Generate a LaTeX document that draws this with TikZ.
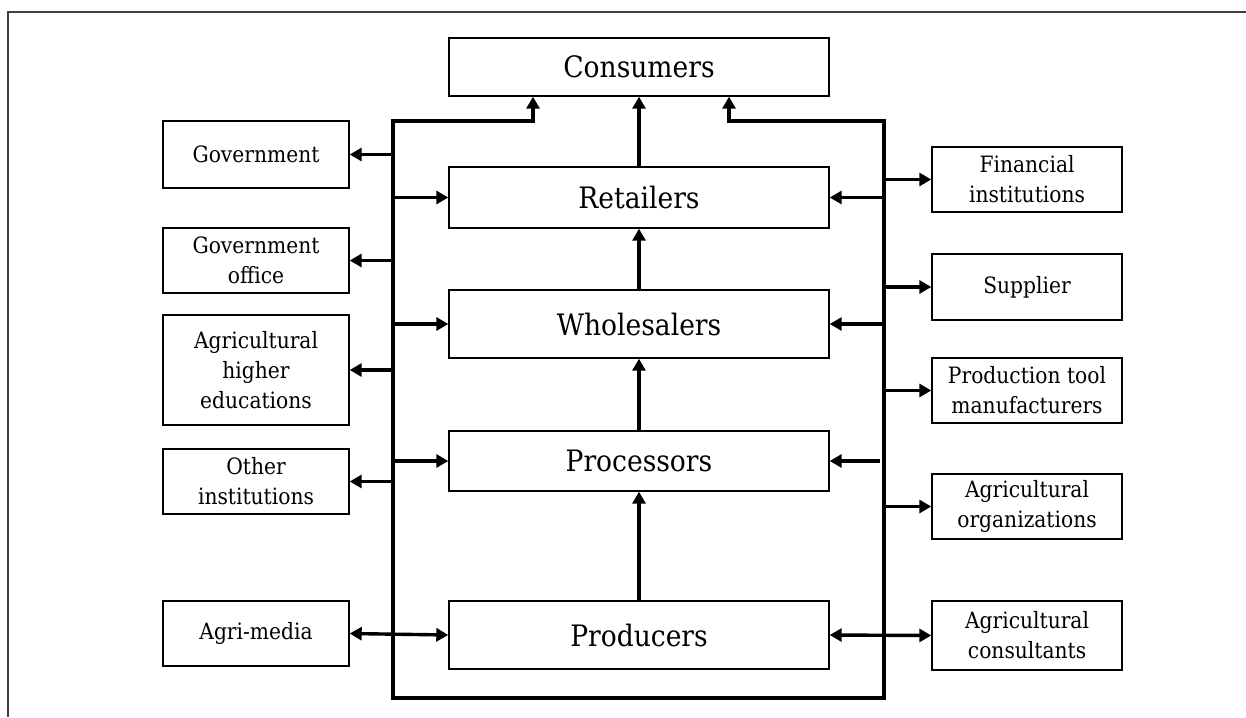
\documentclass[tikz,border=0pt]{standalone}
\usepackage{fontspec}
\setmainfont{DejaVu Serif Condensed}
\usetikzlibrary{arrows.meta}
\begin{document}
\begin{tikzpicture}[x=1pt,y=-1pt,
  box/.style={draw, line width=1.4pt, inner sep=0pt, align=center},
  mainbox/.style={box, minimum width=380pt, font=\fontsize{29.5}{34}\selectfont},
  lbox/.style={box, minimum width=186pt, font=\fontsize{22.5}{30}\selectfont},
  rbox/.style={box, minimum width=190pt, font=\fontsize{22.5}{30}\selectfont},
  tip/.tip={Triangle[length=12pt,width=13pt]},
  conn/.style={line width=3.6pt, -tip},
  twoway/.style={line width=3.4pt, tip-tip},
  bus/.style={line width=3.9pt}]
\useasboundingbox (0,0) rectangle (1246,717);
\draw[line width=1.5pt, black!75] (8,717) -- (8,12) -- (1246,12);

% main chain
\node[mainbox, minimum height=58pt] (cons) at (639,67) {Consumers};
\node[mainbox, minimum height=61pt] (ret) at (639,197.5) {Retailers};
\node[mainbox, minimum height=68pt] (who) at (639,324) {Wholesalers};
\node[mainbox, minimum height=60pt] (proc) at (639,461) {Processors};
\node[mainbox, minimum height=68pt] (prod) at (639,635) {Producers};

% left boxes
\node[lbox, minimum height=67pt] (gov) at (256,154.5) {Government};
\node[lbox, minimum height=65pt] (govoff) at (256,260.5) {Government\\office};
\node[lbox, minimum height=110pt] (edu) at (256,370) {Agricultural\\higher\\educations};
\node[lbox, minimum height=65pt] (other) at (256,481.5) {Other\\institutions};
\node[lbox, minimum height=65pt] (media) at (256,633.5) {Agri-media};

% right boxes
\node[rbox, minimum height=65pt] (fin) at (1027,179.5) {Financial\\institutions};
\node[rbox, minimum height=66pt] (sup) at (1027,287) {Supplier};
\node[rbox, minimum height=65pt] (tool) at (1027,390.5) {Production tool\\manufacturers};
\node[rbox, minimum height=65pt] (org) at (1027,506.5) {Agricultural\\organizations};
\node[rbox, minimum height=69pt] (consul) at (1027,635.5) {Agricultural\\consultants};

% bus
\coordinate (tl) at (393,121);
\coordinate (bl) at (393,698);
\coordinate (br) at (884,698);
\coordinate (tr) at (884,121);
\coordinate (cl) at (533,121);
\coordinate (cr) at (729,121);
\coordinate (pr) at (880,461);
\draw[bus, tip-tip] (cons.south -| cl) -- (cl) -- (tl) -- (bl) -- (br) -- (tr) -- (cr) -- (cons.south -| cr);

% vertical chain
\draw[conn] (ret) -- (cons);
\draw[conn] (who) -- (ret);
\draw[conn] (proc) -- (who);
\draw[conn] (prod) -- (proc);

% left bus stubs
\draw[conn] (tl |- gov.east) -- (gov.east);
\draw[conn] (tl |- govoff.east) -- (govoff.east);
\draw[conn] (tl |- edu.east) -- (edu.east);
\draw[conn] (tl |- other.east) -- (other.east);
\draw[conn] (tl |- ret.west) -- (ret.west);
\draw[conn] (tl |- who.west) -- (who.west);
\draw[conn] (tl |- proc.west) -- (proc.west);
\draw[twoway] (media.east) -- (prod.west);

% right bus stubs
\draw[conn] (tr |- fin.west) -- (fin.west);
\draw[conn] (tr |- sup.west) -- (sup.west);
\draw[conn] (tr |- tool.west) -- (tool.west);
\draw[conn] (tr |- org.west) -- (org.west);
\draw[conn] (tr |- ret.east) -- (ret.east);
\draw[conn] (tr |- who.east) -- (who.east);
\draw[conn] (pr) -- (proc.east);
\draw[twoway] (prod.east) -- (consul.west);
\end{tikzpicture}
\end{document}
